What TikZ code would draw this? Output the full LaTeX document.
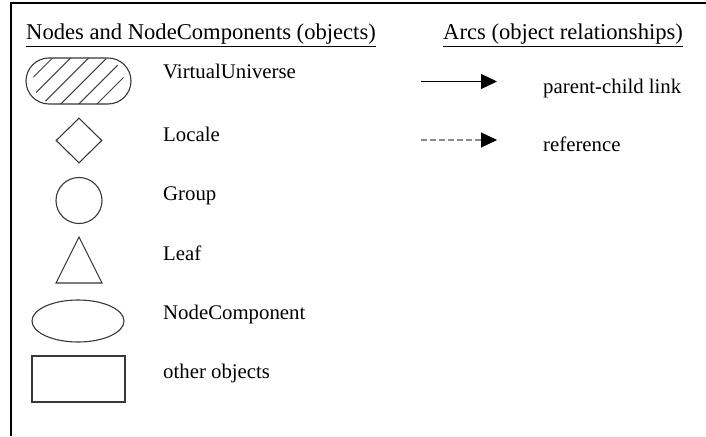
\documentclass[tikz,border=0pt]{standalone}
\usepackage{fontspec}
\setmainfont{Liberation Serif}
\usetikzlibrary{arrows.meta,shapes.geometric,shapes.misc}
\begin{document}
\begin{tikzpicture}[x=1pt,y=-1pt,
  symb/.style={draw=black!78,line width=1.1pt,inner sep=0pt},
  lbl/.style={anchor=base west,inner sep=0pt,font=\fontsize{20.8}{22}\selectfont},
  heading/.style={anchor=base west,inner sep=0pt,font=\fontsize{22.6}{24}\selectfont},
  arc/.style={line width=1.3pt,-{Triangle[length=16pt,width=15pt]}}]
\useasboundingbox (0,0) rectangle (706,436);
% frame
\draw[line width=2pt] (706,3) -- (11,3) -- (11,436);

% headings
\node[heading] (hobj) at (26,39.5) {\underline{Nodes and NodeComponents (objects)}};
\node[heading] (harc) at (443,39.5) {\underline{Arcs (object relationships)}};

% VirtualUniverse: hatched stadium
\coordinate (vuc) at (78.5,81);
\begin{scope}
  \clip (56,58) -- (101,58) arc[start angle=90,end angle=-90,radius=23pt]
        -- (56,104) arc[start angle=270,end angle=90,radius=23pt] -- cycle;
  \foreach \k in {-3,...,4}
    \draw[draw=black!75,line width=1pt] ({41.7+18.1*\k},105) -- ({88.7+18.1*\k},58);
\end{scope}
\node[symb,rounded rectangle,minimum width=105pt,minimum height=46pt] (vu) at (vuc) {};
\node[lbl] (tvu) at (163,78) {VirtualUniverse};

% Locale
\node[symb,diamond,minimum width=46pt,minimum height=45pt] (loc) at (79,140.5) {};
\node[lbl] (tloc) at (163,141) {Locale};

% Group
\node[symb,circle,minimum size=46pt] (grp) at (79,200.5) {};
\node[lbl] (tgrp) at (163,200) {Group};

% Leaf
\coordinate (leafa) at (79,237);
\coordinate (leafl) at (56,283);
\coordinate (leafr) at (102,283);
\draw[draw=black!78,line width=1.1pt,line join=miter] (leafa) -- (leafr) -- (leafl) -- cycle;
\node[lbl] (tleaf) at (163,260) {Leaf};

% NodeComponent
\node[symb,ellipse,minimum width=92pt,minimum height=42pt] (nc) at (78,321) {};
\node[lbl] (tnc) at (163,319) {NodeComponent};

% other objects
\node[symb,rectangle,minimum width=93pt,minimum height=46pt] (oo) at (78.5,379) {};
\node[lbl] (too) at (163,378) {other objects};

% arcs
\coordinate (pa) at (421,81.5);
\coordinate (pb) at (497,81.5);
\draw[arc] (pa) -- (pb);
\node[lbl] (tpc) at (543,93) {parent-child link};

\coordinate (ra) at (421,140);
\coordinate (rb) at (497,140);
\draw[arc,draw=black!45,dash pattern=on 6pt off 3pt] (ra) -- (rb);
\fill[black] (rb) -- ++(-16,-7.5) -- ++(0,15) -- cycle;
\node[lbl] (tref) at (543,151.5) {reference};
\end{tikzpicture}
\end{document}
